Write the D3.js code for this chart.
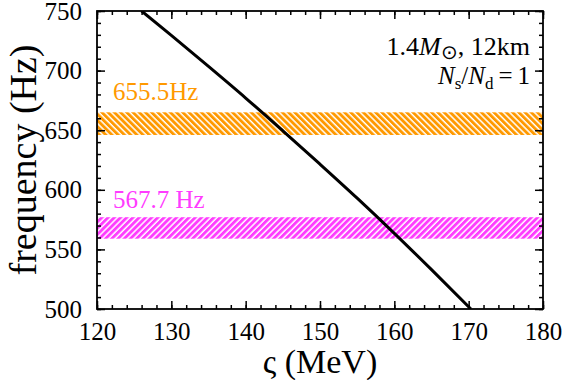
<!DOCTYPE html>
<html>
<head>
<meta charset="utf-8">
<script src="https://cdn.jsdelivr.net/npm/d3@7"></script>
<style>
  html, body { margin: 0; padding: 0; background: #fff; }
  svg { display: block; }
  svg text { font-family: 'Liberation Serif', 'Times New Roman', Times, serif !important; }
</style>
</head>
<body>
<svg id="chart" width="565" height="380"></svg>
<script>
// ---- data ----
const sigma = [126, 130, 135, 140, 145, 150, 155, 160, 165, 170.3];
const freq  = [750, 729.5, 703.5, 677, 649.5, 621.5, 593, 563.5, 533, 500];

const bandLabels = ["655.5Hz", "567.7 Hz"];
const bandLow    = [646, 559];
const bandHigh   = [665, 577];
const bandColors = ["#ff9900", "#ff3cff"];

const xTicks = [120, 130, 140, 150, 160, 170, 180];
const yTicks = [500, 550, 600, 650, 700, 750];

// ---- layout ----
const W = 565, H = 380;
const m = {left: 97, right: 22, top: 11, bottom: 71};
const svg = d3.select("#chart");

const x = d3.scaleLinear().domain([120, 180]).range([m.left, W - m.right]);
const y = d3.scaleLinear().domain([500, 750]).range([H - m.bottom, m.top]);

// patterns
const defs = svg.append("defs");
const angles = [-45, 45];
bandColors.forEach((c, i) => {
  const p = defs.append("pattern")
    .attr("id", "hatch" + i)
    .attr("patternUnits", "userSpaceOnUse")
    .attr("width", 4.4).attr("height", 10)
    .attr("patternTransform", `rotate(${angles[i]})`);
  p.append("rect").attr("width", 4.4).attr("height", 10).attr("fill", "#fff");
  p.append("rect").attr("width", 2.9).attr("height", 10).attr("fill", c);
});
defs.append("clipPath").attr("id", "clip")
  .append("rect")
  .attr("x", m.left).attr("y", m.top)
  .attr("width", W - m.left - m.right).attr("height", H - m.top - m.bottom);

const plot = svg.append("g").attr("clip-path", "url(#clip)");

// bands
bandLow.forEach((lo, i) => {
  plot.append("rect")
    .attr("x", x(120)).attr("width", x(180) - x(120))
    .attr("y", y(bandHigh[i])).attr("height", y(lo) - y(bandHigh[i]))
    .attr("fill", `url(#hatch${i})`);
});

// curve
const pts = sigma.map((s, i) => [s, freq[i]]);
plot.append("path")
  .datum(pts)
  .attr("d", d3.line().x(d => x(d[0])).y(d => y(d[1])).curve(d3.curveMonotoneX))
  .attr("fill", "none").attr("stroke", "#000").attr("stroke-width", 3);

// band labels
const labelY = [100, 208];
bandLabels.forEach((t, i) => {
  svg.append("text")
    .attr("x", 113).attr("y", labelY[i])
    .attr("fill", bandColors[i])
    .style("font-size", "25px")
    .text(t);
});

// axes with inward ticks
const xMinor = d3.range(120, 181, 2);
const yMinor = d3.range(500, 751, 10);
function styleAxis(g) {
  g.attr("font-family", null).attr("font-size", null);
  g.select(".domain").remove();
  g.selectAll("line").attr("stroke", "#000").attr("stroke-width", 1.5);
  g.selectAll("text").attr("fill", "#000").style("font-size", "25px");
}
// bottom
svg.append("g").attr("transform", `translate(0,${y(500)})`)
  .call(d3.axisBottom(x).tickValues(xMinor).tickSize(-4).tickFormat(""))
  .call(styleAxis);
svg.append("g").attr("transform", `translate(0,${y(500)})`)
  .call(d3.axisBottom(x).tickValues(xTicks).tickSize(-8).tickPadding(13).tickFormat(d3.format("d")))
  .call(styleAxis);
// top
svg.append("g").attr("transform", `translate(0,${y(750)})`)
  .call(d3.axisTop(x).tickValues(xMinor).tickSize(-4).tickFormat(""))
  .call(styleAxis);
svg.append("g").attr("transform", `translate(0,${y(750)})`)
  .call(d3.axisTop(x).tickValues(xTicks).tickSize(-8).tickFormat(""))
  .call(styleAxis);
// left
svg.append("g").attr("transform", `translate(${x(120)},0)`)
  .call(d3.axisLeft(y).tickValues(yMinor).tickSize(-4).tickFormat(""))
  .call(styleAxis);
svg.append("g").attr("transform", `translate(${x(120)},0)`)
  .call(d3.axisLeft(y).tickValues(yTicks).tickSize(-8).tickPadding(15).tickFormat(d3.format("d")))
  .call(styleAxis);
// right
svg.append("g").attr("transform", `translate(${x(180)},0)`)
  .call(d3.axisRight(y).tickValues(yMinor).tickSize(-4).tickFormat(""))
  .call(styleAxis);
svg.append("g").attr("transform", `translate(${x(180)},0)`)
  .call(d3.axisRight(y).tickValues(yTicks).tickSize(-8).tickFormat(""))
  .call(styleAxis);

// frame
svg.append("rect")
  .attr("x", x(120)).attr("y", y(750))
  .attr("width", x(180) - x(120)).attr("height", y(500) - y(750))
  .attr("fill", "none").attr("stroke", "#000").attr("stroke-width", 1.8);

// axis titles
svg.append("text")
  .attr("x", (x(120) + x(180)) / 2).attr("y", 373)
  .attr("text-anchor", "middle")
  .style("font-size", "34px")
  .text("ς (MeV)");
svg.append("text")
  .attr("transform", `translate(36,${(y(500) + y(750)) / 2}) rotate(-90)`)
  .attr("text-anchor", "middle")
  .style("font-size", "38px")
  .text("frequency (Hz)");

// annotations
const a1 = svg.append("text").attr("x", 530).attr("y", 55)
  .attr("text-anchor", "end")
  .style("font-size", "26px");
a1.append("tspan").text("1.4");
a1.append("tspan").attr("font-style", "italic").text("M");
a1.append("tspan").style("font-size", "20px").attr("dy", 4).text("⊙");
a1.append("tspan").attr("dy", -4).text(", 12km");

const a2 = svg.append("text").attr("x", 530).attr("y", 84)
  .attr("text-anchor", "end")
  .style("font-size", "25px");
a2.append("tspan").attr("font-style", "italic").text("N");
a2.append("tspan").style("font-size", "17px").attr("dy", 5).text("s");
a2.append("tspan").attr("dy", -5).text("/");
a2.append("tspan").attr("font-style", "italic").text("N");
a2.append("tspan").style("font-size", "17px").attr("dy", 5).text("d");
a2.append("tspan").attr("dy", -5).text("\u2009=\u20091");
</script>
</body>
</html>
